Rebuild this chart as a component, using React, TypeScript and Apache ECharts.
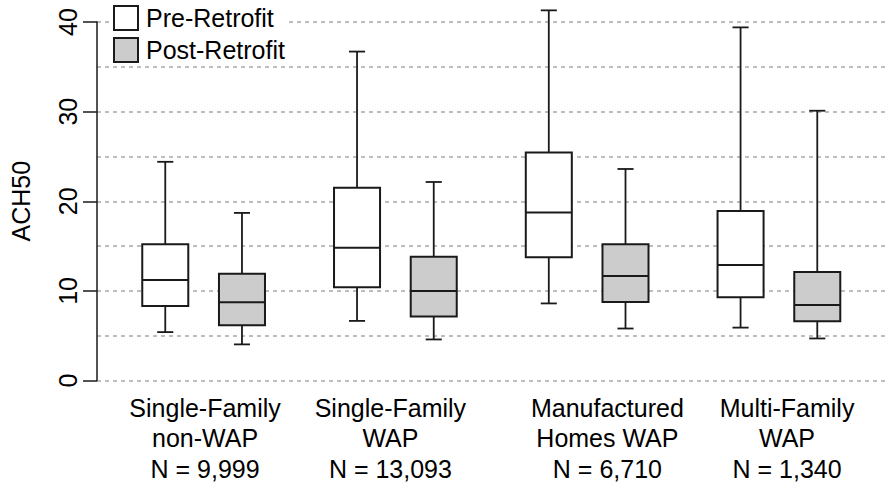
import React, { useEffect, useRef } from "react";
import * as echarts from "echarts";

// Box positions on the x scale (pre, post pairs per group)
const positions = [1, 2, 3.5, 4.5, 6, 7, 8.5, 9.5];
// [low whisker, Q1, median, Q3, high whisker]
const preRetrofit = [
  [5.4, 8.3, 11.2, 15.2, 24.4],
  [6.65, 10.4, 14.8, 21.5, 36.7],
  [8.6, 13.75, 18.75, 25.45, 41.3],
  [5.9, 9.3, 12.9, 18.9, 39.4],
];
const postRetrofit = [
  [4.03, 6.17, 8.72, 11.9, 18.7],
  [4.58, 7.15, 10.0, 13.8, 22.15],
  [5.8, 8.75, 11.67, 15.2, 23.6],
  [4.69, 6.6, 8.42, 12.1, 30.1],
];
const groupLabels = [
  "Single-Family\nnon-WAP\nN = 9,999",
  "Single-Family\nWAP\nN = 13,093",
  "Manufactured\nHomes WAP\nN = 6,710",
  "Multi-Family\nWAP\nN = 1,340",
];
const labelPositions = [1.519, 3.935, 6.764, 9.106];
const yTicks = [0, 10, 20, 30, 40];

const FONT = "'Liberation Sans', Arial, Helvetica, sans-serif";

function makeRender(fill: string) {
  return (params: any, api: any) => {
    const x = api.value(0);
    const lo = api.value(1);
    const q1 = api.value(2);
    const med = api.value(3);
    const q3 = api.value(4);
    const hi = api.value(5);
    const pLo = api.coord([x, lo]);
    const pQ1 = api.coord([x, q1]);
    const pMed = api.coord([x, med]);
    const pQ3 = api.coord([x, q3]);
    const pHi = api.coord([x, hi]);
    const half = api.size([0.6, 0])[0] / 2;
    const cap = api.size([0.21, 0])[0] / 2;
    const cx = pMed[0];
    const lineStyle = { stroke: "#1a1a1a", lineWidth: 1.8, fill: null };
    return {
      type: "group",
      children: [
        { type: "line", shape: { x1: cx, y1: pQ3[1], x2: cx, y2: pHi[1] }, style: lineStyle },
        { type: "line", shape: { x1: cx - cap, y1: pHi[1], x2: cx + cap, y2: pHi[1] }, style: lineStyle },
        { type: "line", shape: { x1: cx, y1: pQ1[1], x2: cx, y2: pLo[1] }, style: lineStyle },
        { type: "line", shape: { x1: cx - cap, y1: pLo[1], x2: cx + cap, y2: pLo[1] }, style: lineStyle },
        {
          type: "rect",
          shape: { x: cx - half, y: pQ3[1], width: half * 2, height: pQ1[1] - pQ3[1] },
          style: { fill, stroke: "#1a1a1a", lineWidth: 2 },
        },
        {
          type: "line",
          shape: { x1: cx - half, y1: pMed[1], x2: cx + half, y2: pMed[1] },
          style: { stroke: "#1a1a1a", lineWidth: 2 },
        },
      ],
    };
  };
}

export default function App() {
  const ref = useRef<HTMLDivElement>(null);
  useEffect(() => {
    if (!ref.current) return;
    const chart = echarts.init(ref.current, null, { renderer: "svg" });
    const preData = preRetrofit.map((v, i) => [positions[i * 2], ...v]);
    const postData = postRetrofit.map((v, i) => [positions[i * 2 + 1], ...v]);
    chart.setOption({
      animation: false,
      backgroundColor: "#fff",
      textStyle: { fontFamily: FONT },
      grid: { left: 94, right: 0, top: 22, bottom: 101, containLabel: false },
      legend: {
        orient: "vertical",
        left: 113,
        top: 5,
        padding: 0,
        itemWidth: 24,
        itemHeight: 24,
        itemGap: 6,
        icon: "rect",
        backgroundColor: "#fff",
        textStyle: { fontSize: 25, color: "#000", fontFamily: FONT, lineHeight: 24, padding: [0, 0, 0, 3] },
        data: [
          { name: "Pre-Retrofit", itemStyle: { color: "#ffffff", borderColor: "#1a1a1a", borderWidth: 2 } },
          { name: "Post-Retrofit", itemStyle: { color: "#cccccc", borderColor: "#1a1a1a", borderWidth: 2 } },
        ],
      },
      xAxis: {
        type: "value",
        min: 0.11,
        max: 10.383,
        axisLine: { show: false },
        axisTick: { show: false },
        splitLine: { show: false },
        axisLabel: {
          customValues: labelPositions,
          formatter: (v: number) => {
            let best = 0;
            labelPositions.forEach((p, i) => {
              if (Math.abs(p - v) < Math.abs(labelPositions[best] - v)) best = i;
            });
            return groupLabels[best];
          },
          fontSize: 25,
          lineHeight: 30.5,
          color: "#000",
          margin: 12,
          fontFamily: FONT,
        },
      },
      yAxis: {
        type: "value",
        min: 0,
        max: 40,
        interval: 10,
        name: "ACH50",
        nameLocation: "middle",
        nameGap: 64,
        nameTextStyle: { fontSize: 25, color: "#000", fontFamily: FONT },
        axisLine: { show: true, lineStyle: { color: "#1a1a1a", width: 1.5 } },
        axisTick: { show: true, length: 14, lineStyle: { color: "#1a1a1a", width: 1.5 } },
        axisLabel: {
          rotate: 90,
          fontSize: 25,
          color: "#000",
          margin: 17,
          fontFamily: FONT,
          customValues: yTicks,
        },
        splitLine: { show: true, lineStyle: { color: "#bdbdbd", width: 2, type: [4, 4] } },
        minorTick: { show: false, splitNumber: 2 },
        minorSplitLine: { show: true, lineStyle: { color: "#bdbdbd", width: 2, type: [4, 4] } },
      },
      series: [
        {
          name: "Pre-Retrofit",
          type: "custom",
          renderItem: makeRender("#ffffff"),
          itemStyle: { color: "#ffffff", borderColor: "#1a1a1a" },
          encode: { x: 0, y: [1, 2, 3, 4, 5] },
          data: preData,
          clip: false,
          z: 3,
        },
        {
          name: "Post-Retrofit",
          type: "custom",
          renderItem: makeRender("#cccccc"),
          itemStyle: { color: "#cccccc", borderColor: "#1a1a1a" },
          encode: { x: 0, y: [1, 2, 3, 4, 5] },
          data: postData,
          clip: false,
          z: 3,
        },
      ],
    });
    return () => chart.dispose();
  }, []);
  return <div ref={ref} style={{ width: 885, height: 484, position: "absolute", left: 0, top: 0 }} />;
}
